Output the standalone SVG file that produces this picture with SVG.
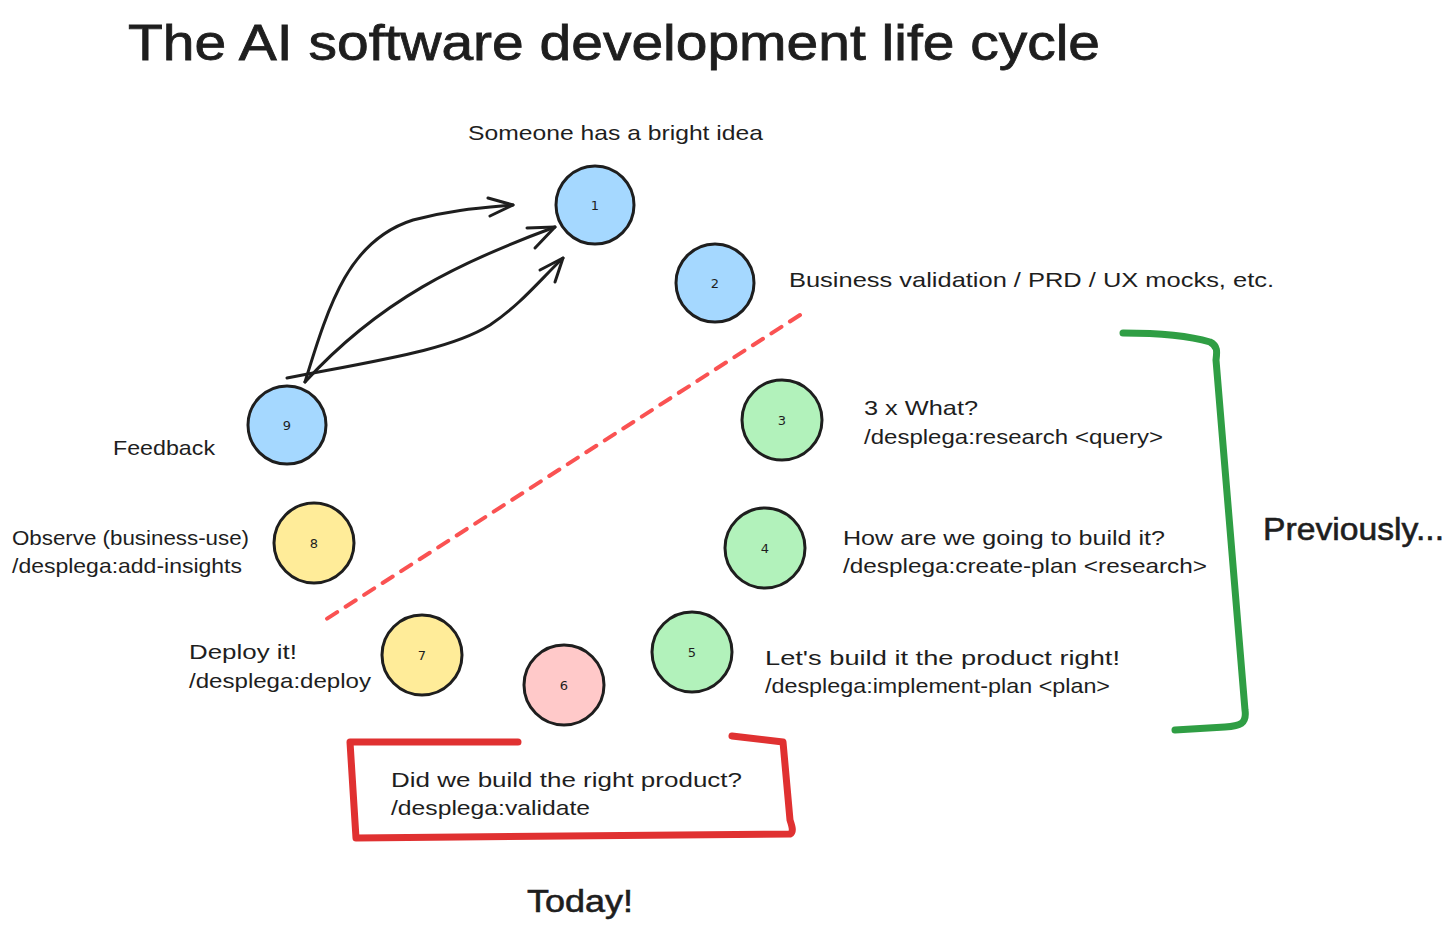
<svg xmlns="http://www.w3.org/2000/svg" width="1456" height="933" viewBox="0 0 1456 933">
<style>
.t{font-family:"Liberation Sans","DejaVu Sans",sans-serif;fill:#1e1e1e;font-size:21px}
.title{font-size:50px;stroke:#1e1e1e;stroke-width:0.8}
.big{font-size:32px;stroke:#1e1e1e;stroke-width:0.6}
.n{font-family:"DejaVu Sans",sans-serif;fill:#1e1e1e;font-size:13px;text-anchor:middle}
.c{stroke:#1e1e1e;stroke-width:3}
.blue{fill:#a5d8ff}.green{fill:#b2f2bb}.yellow{fill:#ffec99}.pink{fill:#ffc9c9}
.a{fill:none;stroke:#1e1e1e;stroke-width:3;stroke-linecap:round;stroke-linejoin:round}
</style>
<rect width="1456" height="933" fill="#ffffff"/>
<text class="t title" x="128" y="60" textLength="972" lengthAdjust="spacingAndGlyphs">The AI software development life cycle</text>

<g id="connectors">
<path class="a" d="M305 382 C330 300 350 240 413 220 C450 210 480 208 513 205"/>
<path class="a" d="M488 198 L513 205 L490 216"/>
<path class="a" d="M305 382 C380 300 460 262 555 227"/>
<path class="a" d="M527 228 L555 227 L535 248"/>
<path class="a" d="M287 378 C380 360 450 350 490 325 C520 305 540 280 563 258"/>
<path class="a" d="M540 270 L563 258 L555 282"/>
<path d="M800 315 L325 620" fill="none" stroke="#fa5252" stroke-width="4" stroke-dasharray="12 10" stroke-linecap="round"/>
<path d="M1123 333 C1160 333 1190 336 1210 342 C1218 346 1217 352 1216 360 L1245 710 C1247 724 1240 726 1225 727 L1175 730" fill="none" stroke="#2f9e44" stroke-width="7" stroke-linecap="round" stroke-linejoin="round"/>
<path d="M518 742 L350 742 L356 838 L790 834 C794 832 792 826 790 820 L783 742 L732 736" fill="none" stroke="#e03131" stroke-width="7" stroke-linecap="round" stroke-linejoin="round"/>
</g>

<g id="node1"><circle class="c blue" cx="595" cy="205" r="39"/><text class="n" x="595" y="210">1</text>
<text class="t" x="468" y="140" textLength="295" lengthAdjust="spacingAndGlyphs">Someone has a bright idea</text></g>
<g id="node2"><circle class="c blue" cx="715" cy="283" r="39"/><text class="n" x="715" y="288">2</text>
<text class="t" x="789" y="287" textLength="485" lengthAdjust="spacingAndGlyphs">Business validation / PRD / UX mocks, etc.</text></g>
<g id="node3"><circle class="c green" cx="782" cy="420" r="40"/><text class="n" x="782" y="425">3</text>
<text class="t" x="864" y="415" textLength="114" lengthAdjust="spacingAndGlyphs">3 x What?</text>
<text class="t" x="864" y="444" textLength="299" lengthAdjust="spacingAndGlyphs">/desplega:research &lt;query&gt;</text></g>
<g id="node4"><circle class="c green" cx="765" cy="548" r="40"/><text class="n" x="765" y="553">4</text>
<text class="t" x="843" y="545" textLength="322" lengthAdjust="spacingAndGlyphs">How are we going to build it?</text>
<text class="t" x="843" y="573" textLength="364" lengthAdjust="spacingAndGlyphs">/desplega:create-plan &lt;research&gt;</text></g>
<g id="node5"><circle class="c green" cx="692" cy="652" r="40"/><text class="n" x="692" y="657">5</text>
<text class="t" x="765" y="665" textLength="355" lengthAdjust="spacingAndGlyphs">Let's build it the product right!</text>
<text class="t" x="765" y="693" textLength="345" lengthAdjust="spacingAndGlyphs">/desplega:implement-plan &lt;plan&gt;</text></g>
<g id="node6"><circle class="c pink" cx="564" cy="685" r="40"/><text class="n" x="564" y="690">6</text>
<text class="t" x="391" y="787" textLength="351" lengthAdjust="spacingAndGlyphs">Did we build the right product?</text>
<text class="t" x="391" y="815" textLength="199" lengthAdjust="spacingAndGlyphs">/desplega:validate</text>
<text class="t big" x="527" y="912" textLength="106" lengthAdjust="spacingAndGlyphs">Today!</text></g>
<g id="node7"><circle class="c yellow" cx="422" cy="655" r="40"/><text class="n" x="422" y="660">7</text>
<text class="t" x="189" y="659" textLength="108" lengthAdjust="spacingAndGlyphs">Deploy it!</text>
<text class="t" x="189" y="688" textLength="182" lengthAdjust="spacingAndGlyphs">/desplega:deploy</text></g>
<g id="node8"><circle class="c yellow" cx="314" cy="543" r="40"/><text class="n" x="314" y="548">8</text>
<text class="t" x="12" y="545" textLength="237" lengthAdjust="spacingAndGlyphs">Observe (business-use)</text>
<text class="t" x="12" y="573" textLength="230" lengthAdjust="spacingAndGlyphs">/desplega:add-insights</text></g>
<g id="node9"><circle class="c blue" cx="287" cy="425" r="39"/><text class="n" x="287" y="430">9</text>
<text class="t" x="113" y="455" textLength="102" lengthAdjust="spacingAndGlyphs">Feedback</text></g>
<g id="previously"><text class="t big" x="1263" y="540" textLength="181" lengthAdjust="spacingAndGlyphs">Previously...</text></g>
</svg>
